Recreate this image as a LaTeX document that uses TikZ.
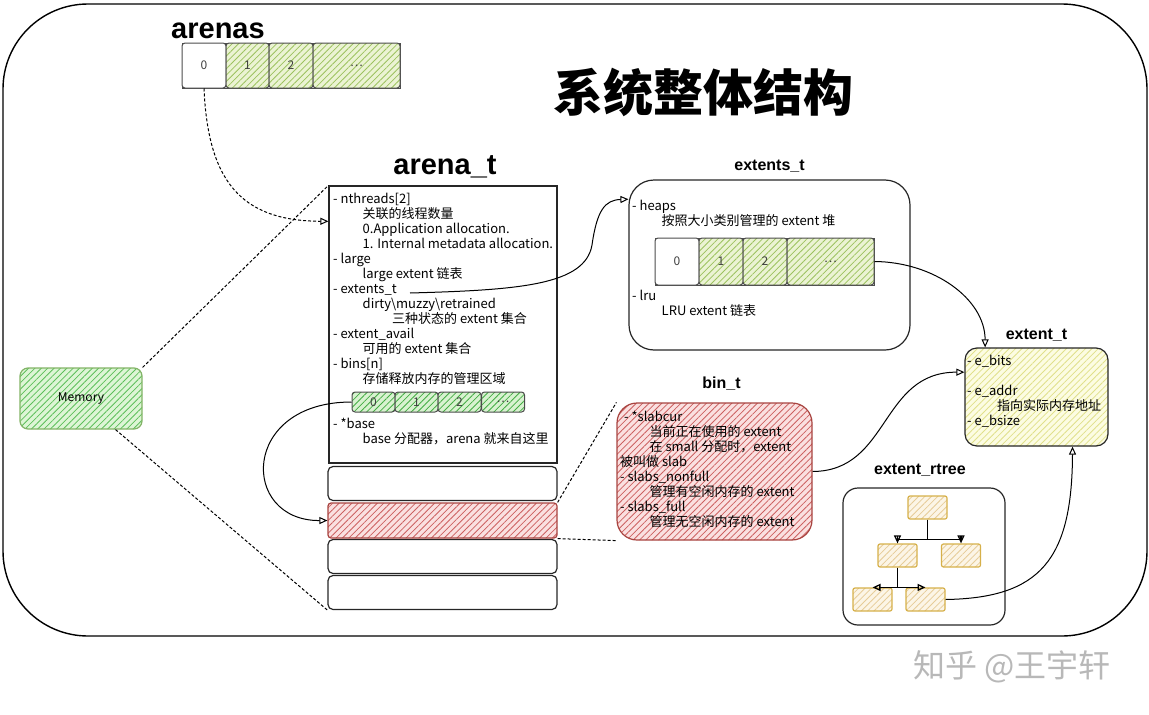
\documentclass[tikz,border=0pt]{standalone}
\usepackage{fontspec}
\setmainfont{Noto Sans CJK SC}
\newfontfamily\arialfont{Liberation Sans}
\usetikzlibrary{arrows.meta,patterns.meta,positioning}
\definecolor{arrfill}{HTML}{EBF3D3}
\definecolor{arrline}{HTML}{9CC25E}
\definecolor{memfill}{HTML}{DDF5D5}
\definecolor{memline}{HTML}{5CBF5A}
\definecolor{memedge}{HTML}{82B366}
\definecolor{binfill}{HTML}{D8F2D0}
\definecolor{binline}{HTML}{43AD43}
\definecolor{redfill}{HTML}{FAE0E0}
\definecolor{redline}{HTML}{CC6060}
\definecolor{rededge}{HTML}{A84440}
\definecolor{yelfill}{HTML}{FCFCE2}
\definecolor{yelline}{HTML}{E0E08A}
\definecolor{trfill}{HTML}{FCF5E6}
\definecolor{trline}{HTML}{E6CC98}
\definecolor{tredge}{HTML}{D6B04A}
\newcommand{\ind}{\hspace*{29.5pt}}

\begin{document}
\begin{tikzpicture}[x=1pt,y=-1pt]
  \tikzset{box/.style={draw=black!85, line width=1.2pt},
    rbox/.style={box, rounded corners=#1},
    hatch/.style 2 args={preaction={fill=#1},
      pattern={Lines[angle=45,distance=4.5pt,line width=0.8pt]}, pattern color=#2},
    cell/.style={draw=black!70, line width=1pt, rounded corners=3pt, inner sep=0pt,
      text=black!75, font=\fontsize{12}{12}\selectfont},
    txt/.style={anchor=north west, align=left, inner sep=0pt, font=\fontsize{13}{15}\selectfont},
    lab/.style={inner sep=0pt, font=\arialfont\bfseries\fontsize{16}{16}\selectfont},
    biglab/.style={inner sep=0pt, font=\arialfont\bfseries\fontsize{29}{29}\selectfont},
    tnode/.style={draw=tredge, line width=1.2pt, rounded corners=2pt, hatch={trfill}{trline},
      minimum width=39pt, minimum height=23pt},
    arr/.style={line width=1pt, -{Triangle[open,length=8pt,width=7pt]}},
    dashline/.style={line width=1pt, dash pattern=on 3pt off 2pt}
  }
  \useasboundingbox (0,0) rectangle (1149,715);
  \draw[line width=1.4pt, rounded corners=85pt] (3,4) rectangle (1147,636);

  % titles
  \node[biglab] (arenaslab) at (218,31) {arenas};
  \node[inner sep=0pt, font=\bfseries\fontsize{50}{50}\selectfont] (title) at (703,92) {系统整体结构};
  \node[biglab] (arenatlab) at (445,167) {arena\_t};

  % arenas array
  \draw[black!70, line width=1pt] (182,43) rectangle (400,88);
  \node[cell, fill=white, minimum width=44, minimum height=45] (arena0) at (204,65.5) {0};
  \foreach \n/\cx/\w/\t in {1/247.5/43/1, 2/291/44/2, 3/356.5/87/\ldots}
    \node[cell, hatch={arrfill}{arrline}, minimum width=\w, minimum height=45] (arena\n) at (\cx,65.5) {\t};

  % arena_t
  \node[box, minimum width=228, minimum height=277] (arenat) at (443,324.5) {};
  \node[txt] (arenatxt) at (333,193) {- nthreads[2]\\
    \ind 关联的线程数量\\
    \ind 0.Application allocation.\\
    \ind 1. Internal metadata allocation.\\
    - large\\
    \ind large extent 链表\\
    - extents\_t\\
    \ind dirty\textbackslash muzzy\textbackslash retrained\\
    \ind\ind 三种状态的 extent 集合\\
    - extent\_avail\\
    \ind 可用的 extent 集合\\
    - bins[n]\\
    \ind 存储释放内存的管理区域};
  \foreach \n/\cx/\t in {0/373.5/0, 1/416.5/1, 2/459.5/2, 3/503/\ldots}
    \node[cell, hatch={binfill}{binline}, minimum width=43, minimum height=20] (bin\n) at (\cx,402) {\t};
  \node[txt] (basetxt) at (333,418) {- *base\\
    \ind base 分配器，arena 就来自这里};
  \coordinate (extline) at (410,293);

  \foreach \i/\cy in {1/483.5, 3/556.5, 4/592.5}
    \node[rbox=5pt, minimum width=229, minimum height=34] (slot\i) at (442.5,\cy) {};
  \node[rbox=3pt, draw=rededge, hatch={redfill}{redline}, minimum width=229, minimum height=35] (slot2) at (442.5,520.5) {};

  % Memory
  \node[draw=memedge, line width=1.2pt, rounded corners=8pt, hatch={memfill}{memline},
    minimum width=122, minimum height=61, font=\fontsize{12}{12}\selectfont] (memory) at (81,398.5) {Memory};

  % extents_t
  \node[rbox=25pt, minimum width=281, minimum height=170] (extents) at (769.5,265) {};
  \node[lab, above=7pt of extents] (extentslab) {extents\_t};
  \node[txt] (heapstxt) at (632,200) {- heaps\\
    \ind 按照大小类别管理的 extent 堆};
  \draw[black!70, line width=1pt] (655,238) rectangle (874,285);
  \node[cell, fill=white, minimum width=44, minimum height=47] (heap0) at (677,261.5) {0};
  \foreach \n/\cx/\w/\t in {1/721/44/1, 2/765/44/2, 3/830.5/87/\ldots}
    \node[cell, hatch={arrfill}{arrline}, minimum width=\w, minimum height=47] (heap\n) at (\cx,261.5) {\t};
  \node[txt] (lrutxt) at (632,290) {- lru\\
    \ind LRU extent 链表};

  % bin_t
  \node[rbox=20pt, draw=rededge, hatch={redfill}{redline}, minimum width=195, minimum height=137] (bint) at (714.5,471.5) {};
  \node[lab, above=12pt of bint, xshift=7pt] (bintlab) {bin\_t};
  \node[txt] (binttxt) at (620,411) {\hspace*{4pt}- *slabcur\\
    \ind 当前正在使用的 extent\\
    \ind 在 small 分配时，extent\\
    被叫做 slab\\
    - slabs\_nonfull\\
    \ind 管理有空闲内存的 extent\\
    - slabs\_full\\
    \ind 管理无空闲内存的 extent};

  % extent_t
  \node[rbox=12pt, hatch={yelfill}{yelline}, minimum width=143, minimum height=98] (extentt) at (1036.5,397) {};
  \node[lab, above=6pt of extentt] (extenttlab) {extent\_t};
  \node[txt] (extenttxt) at (967,355) {- e\_bits\\[15pt]
    - e\_addr\\
    \hspace*{30pt}指向实际内存地址\\
    - e\_bsize};

  % extent_rtree
  \node[rbox=15pt, minimum width=162, minimum height=137] (rtree) at (924,556.5) {};
  \node[lab, above=11pt of rtree, xshift=-4pt] (rtreelab) {extent\_rtree};
  \node[tnode] (rtop) at (927.5,507.5) {};
  \node[tnode] (rml) at (897.5,555.5) {};
  \node[tnode] (rmr) at (961,555.5) {};
  \node[tnode] (rbl) at (872.5,599.5) {};
  \node[tnode] (rbr) at (925.5,599.5) {};
  \draw[arr, line width=1.3pt] (rtop.south) -- ++(0,20) -| (rml.north);
  \draw[arr, line width=1.3pt] (rtop.south) -- ++(0,20) -| (rmr.north);
  \draw[arr, line width=1.3pt] (rml.south) |- (rbl.north);
  \draw[arr, line width=1.3pt] (rml.south) |- (rbr.north);

  % connectors
  \draw[dashline, arr] (arena0.south) .. controls (208,180) and (240,221) .. (arenat.138);
  \draw[dashline] (memory.north east) -- (arenat.north west);
  \draw[dashline] (memory.-42) -- (slot4.south west);
  \draw[arr] (bin0.west) .. controls (240,402) and (240,521) .. (slot2.west);
  \draw[arr] (extline) .. controls (520,290) and (585,285) .. (592,245)
    .. controls (597,210) and (605,200) .. (extents.155);
  \draw[dashline] (slot2.north east) -- (bint.north west);
  \draw[dashline] (slot2.south east) -- (bint.south west);
  \draw[arr] (heap3.east) .. controls (934,262) and (985,299) .. (extentt.136);
  \draw[arr] (bint.east) .. controls (890,471) and (880,372) .. (extentt.161);
  \draw[arr] (rbr.east) .. controls (1040,598) and (1072,560) .. (extentt.-54);

  % watermark
  \node[text=black!28, font=\fontsize{32}{32}\selectfont] (mark) at (1012,667) {知乎 @王宇轩};
\end{tikzpicture}
\end{document}
